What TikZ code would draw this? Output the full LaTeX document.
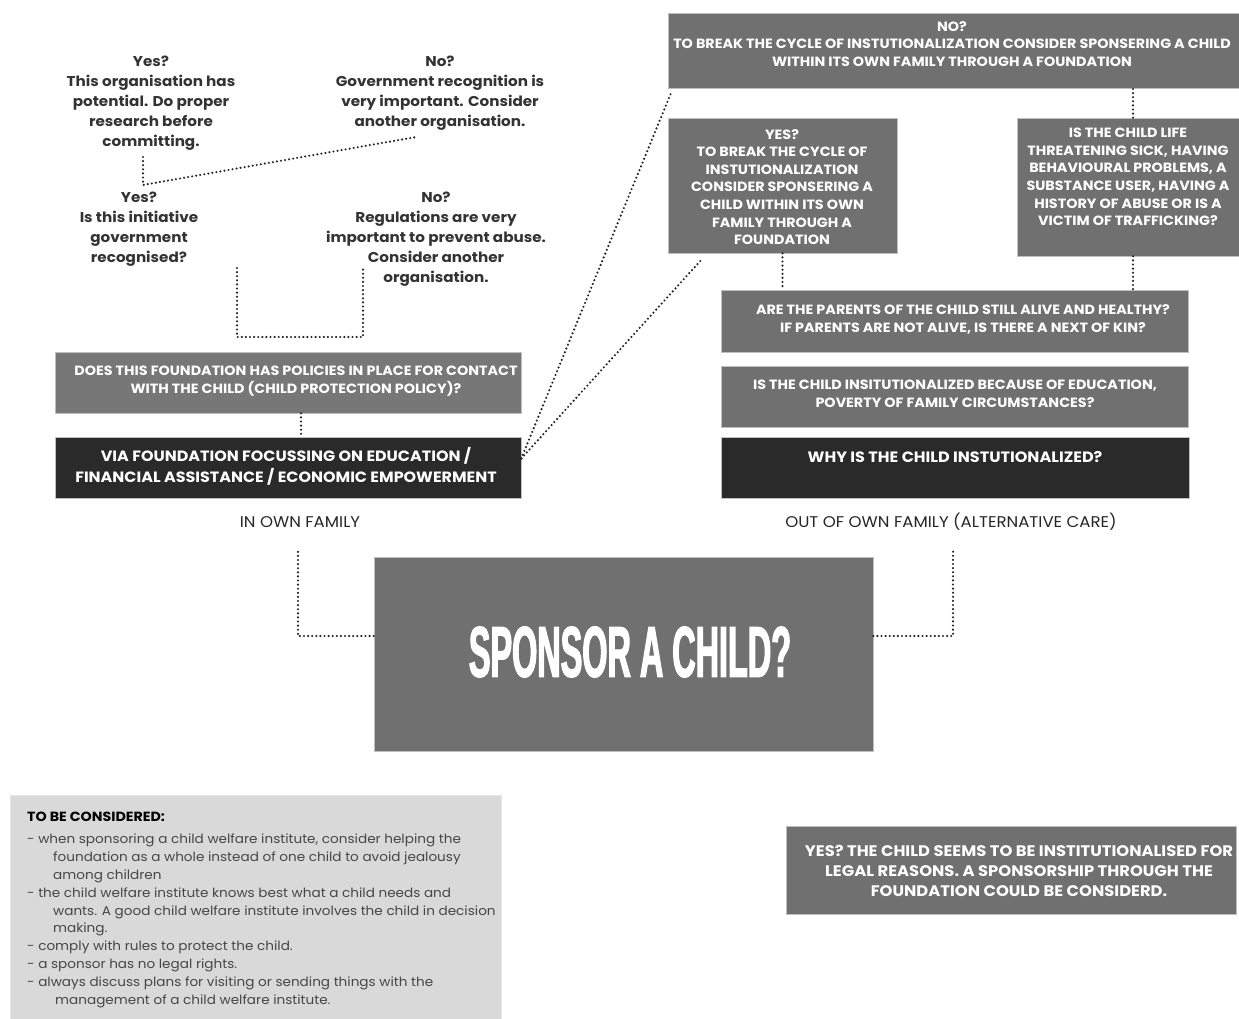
\documentclass[tikz,border=0pt]{standalone}
\usepackage{fontspec}
\setmainfont[FakeStretch=1.07]{Poppins}
\newfontfamily\condfont[FakeStretch=0.45,FakeBold=1.6]{Liberation Sans}
\usetikzlibrary{calc}
\definecolor{midgray}{HTML}{707070}
\definecolor{polgray}{HTML}{777777}
\definecolor{darkbox}{HTML}{2A2A2A}
\definecolor{notegray}{HTML}{D9D9D9}
\definecolor{txtgray}{HTML}{333333}
\definecolor{notetxt}{HTML}{464646}
\definecolor{linegray}{HTML}{262626}
\begin{document}
\begin{tikzpicture}[x=1pt,y=-1pt,
  box/.style={draw=black!25, line width=0.6pt, fill=midgray, inner sep=0pt},
  darkbx/.style={box, fill=darkbox},
  boxtxt/.style={text=white, align=center, inner sep=0pt, font=\bfseries\fontsize{13.4}{17.6}\selectfont},
  bigtxt/.style={boxtxt, font=\bfseries\fontsize{14.9}{20.5}\selectfont},
  qtxt/.style={text=txtgray, align=center, inner sep=0pt, font=\bfseries\fontsize{14.2}{20}\selectfont},
  captxt/.style={text=linegray, inner sep=0pt, font=\fontsize{15.5}{17}\selectfont},
  conn/.style={draw=linegray, line width=2.4pt, line cap=round, dash pattern=on 0pt off 4.1pt},
]
\useasboundingbox (0,0) rectangle (1239,1019);

% ---- boxes
\node[box, minimum width=571pt, minimum height=75pt] (no) at (953.5,50.5) {};
\node[box, minimum width=229pt, minimum height=135pt] (yes) at (782.5,185.5) {};
\node[box, minimum width=222pt, minimum height=138pt] (life) at (1128,187) {};
\node[box, minimum width=467pt, minimum height=62pt] (parents) at (954.5,321) {};
\node[box, minimum width=467pt, minimum height=61pt] (insit) at (954.5,396.5) {};
\node[darkbx, minimum width=468pt, minimum height=61pt] (why) at (955,467.5) {};
\node[box, fill=polgray, minimum width=466pt, minimum height=61pt] (policy) at (288,382.5) {};
\node[darkbx, minimum width=466pt, minimum height=61pt] (via) at (288,467.5) {};
\node[box, minimum width=499pt, minimum height=194pt] (sponsor) at (623.5,654) {};
\node[box, fill=notegray, draw=black!10, minimum width=491pt, minimum height=230pt] (notes) at (255.5,910) {};
\node[box, minimum width=450pt, minimum height=88pt] (legal) at (1011,870) {};

% ---- box texts
\node[boxtxt] (notxt) at (952,44) {NO?\\TO BREAK THE CYCLE OF INSTUTIONALIZATION CONSIDER SPONSERING A CHILD\\WITHIN ITS OWN FAMILY THROUGH A FOUNDATION};
\node[boxtxt] (yestxt) at (782,187) {YES?\\TO BREAK THE CYCLE OF\\INSTUTIONALIZATION\\CONSIDER SPONSERING A\\CHILD WITHIN ITS OWN\\FAMILY THROUGH A\\FOUNDATION};
\node[boxtxt] (lifetxt) at (1128,177) {IS THE CHILD LIFE\\THREATENING SICK, HAVING\\BEHAVIOURAL PROBLEMS, A\\SUBSTANCE USER, HAVING A\\HISTORY OF ABUSE OR IS A\\VICTIM OF TRAFFICKING?};
\node[boxtxt] (parentstxt) at (963,319.5) {ARE THE PARENTS OF THE CHILD STILL ALIVE AND HEALTHY?\\IF PARENTS ARE NOT ALIVE, IS THERE A NEXT OF KIN?};
\node[boxtxt] (insittxt) at (955,394) {IS THE CHILD INSITUTIONALIZED BECAUSE OF EDUCATION,\\POVERTY OF FAMILY CIRCUMSTANCES?};
\node[bigtxt, font=\bfseries\fontsize{15}{20}\selectfont] (whytxt) at (955,457) {WHY IS THE CHILD INSTUTIONALIZED?};
\node[boxtxt] (policytxt) at (296,381) {DOES THIS FOUNDATION HAS POLICIES IN PLACE FOR CONTACT\\WITH THE CHILD (CHILD PROTECTION POLICY)?};
\node[bigtxt] (viatxt) at (286,466.5) {VIA FOUNDATION FOCUSSING ON EDUCATION /\\FINANCIAL ASSISTANCE / ECONOMIC EMPOWERMENT};
\node[bigtxt, font=\bfseries\fontsize{15.3}{20}\selectfont] (legaltxt) at (1019,871) {YES? THE CHILD SEEMS TO BE INSTITUTIONALISED FOR\\LEGAL REASONS. A SPONSORSHIP THROUGH THE\\FOUNDATION COULD BE CONSIDERD.};
\node[text=white, inner sep=0pt, font=\condfont\bfseries\fontsize{72}{72}\selectfont] (sponsortxt) at (630,652) {SPONSOR A CHILD?};

% ---- captions
\node[captxt] (inown) at (300,522) {IN OWN FAMILY};
\node[captxt] (outown) at (951,522) {OUT OF OWN FAMILY (ALTERNATIVE CARE)};

% ---- question texts (top left)
\node[qtxt] (q1) at (151,103) {Yes?\\This organisation has\\potential. Do proper\\research before\\committing.};
\node[qtxt] (q2) at (440,93) {No?\\Government recognition is\\very important. Consider\\another organisation.};
\node[qtxt] (q3) at (139,229) {Yes?\\Is this initiative\\government\\recognised?};
\node[qtxt] (q4) at (436,239) {No?\\Regulations are very\\important to prevent abuse.\\Consider another\\organisation.};

% ---- notes
\node[anchor=west, inner sep=0pt, text=black, font=\bfseries\fontsize{13.3}{15}\selectfont] (notetitle) at (27,817) {TO BE CONSIDERED:};
\node[anchor=north west, align=left, inner sep=0pt, text=notetxt, font=\fontsize{12.7}{17.8}\selectfont] (notelist) at (27,834) {%
- when sponsoring a child welfare institute, consider helping the\\
\hspace*{26pt}foundation as a whole instead of one child to avoid jealousy\\
\hspace*{26pt}among children\\
- the child welfare institute knows best what a child needs and\\
\hspace*{26pt}wants. A good child welfare institute involves the child in decision\\
\hspace*{26pt}making.\\
- comply with rules to protect the child.\\
- a sponsor has no legal rights.\\
- always discuss plans for visiting or sending things with the\\
\hspace*{28pt}management of a child welfare institute.};

% ---- connectors
\coordinate (inownend) at (298,548);
\coordinate (outownend) at (953,550);
\draw[conn] ([yshift=18pt]sponsor.west) -| (inownend);
\draw[conn] ([yshift=18pt]sponsor.east) -| (outownend);
\draw[conn] ([xshift=13pt]policy.south) -- ([xshift=13pt]via.north);
\draw[conn] (yes.south) -- (yes.south |- parents.north);
\draw[conn] ([xshift=5pt]life.south) -- ([xshift=5pt]life.south |- parents.north);
\draw[conn] ([xshift=5pt]life.north) -- ([xshift=5pt]life.north |- no.south);
\draw[conn] ([yshift=9pt]via.east) -- ([xshift=4pt,yshift=-3pt]no.south west);
\draw[conn] ([yshift=9pt]via.east) -- ([xshift=35pt,yshift=-5pt]yes.south west);

\coordinate (br1) at (237,268);
\coordinate (br2) at (363,268);
\draw[conn] (br1) -- ++(0,69) -| (br2);

\coordinate (t1) at (143,157);
\coordinate (t2) at (143,185);
\coordinate (t3) at (416,137);
\draw[conn] (t1) -- (t2) -- (t3);
\end{tikzpicture}
\end{document}
